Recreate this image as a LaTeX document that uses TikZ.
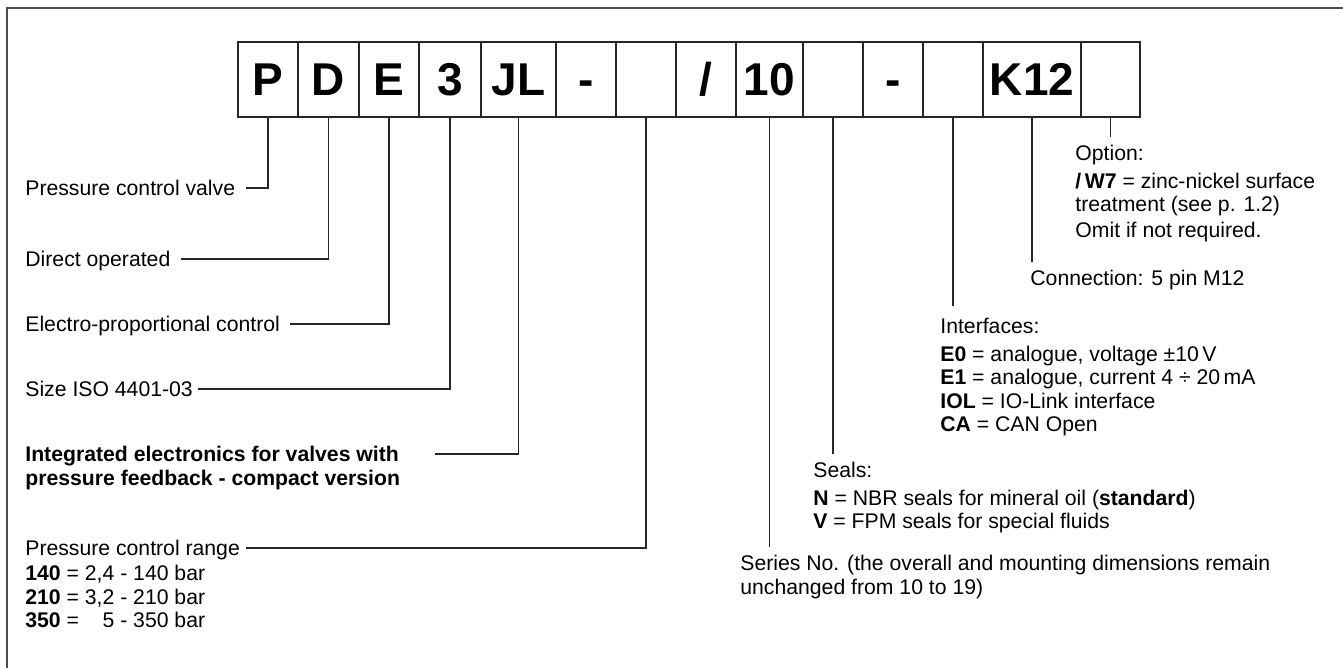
\documentclass[tikz,border=0pt]{standalone}
\usepackage{fontspec}
\setmainfont{Liberation Sans}
\usetikzlibrary{positioning}
\usetikzlibrary{calc}

\begin{document}
\begin{tikzpicture}[x=0.5pt,y=-0.5pt,
  cell/.style={draw=black!85, line width=0.6pt, minimum height=37.5pt, inner sep=0pt, outer sep=0pt, text height=16.4pt, text depth=0pt, font=\fontsize{23}{23}\selectfont\bfseries},
  lbl/.style={anchor=west, inner sep=0pt, text height=7.6pt, text depth=0pt, font=\fontsize{10.6}{11.75}\selectfont},
  blk/.style={anchor=north west, inner sep=0pt, align=left, font=\fontsize{10.6}{11.75}\selectfont},
  lead/.style={draw=black!85, line width=0.55pt, shorten >=5pt}]

\useasboundingbox (0,0) rectangle (1343,668);

% frame
\draw[black!70, line width=0.8pt] (7,668) -- (7,8) -- (1343,8);

% code boxes
{
\node[cell, minimum width=30pt, anchor=north west] (bP) at (238,42) {P};
\node[cell, minimum width=30.5pt, right=0pt of bP] (bD) {D};
\node[cell, minimum width=30pt, right=0pt of bD] (bE) {E};
\node[cell, minimum width=31pt, right=0pt of bE] (bSz) {3};
\node[cell, minimum width=37.5pt, right=0pt of bSz] (bJL) {JL};
\node[cell, minimum width=30pt, right=0pt of bJL] (bDa) {-};
\node[cell, minimum width=30pt, right=0pt of bDa] (bRng) {};
\node[cell, minimum width=30pt, right=0pt of bRng] (bSl) {/};
\node[cell, minimum width=33.5pt, right=0pt of bSl] (bSer) {10};
\node[cell, minimum width=30pt, right=0pt of bSer] (bSeal) {};
\node[cell, minimum width=30pt, right=0pt of bSeal] (bDb) {-};
\node[cell, minimum width=30pt, right=0pt of bDb] (bIf) {};
\node[cell, minimum width=49pt, right=0pt of bIf] (bK) {K12};
\node[cell, minimum width=29.5pt, right=0pt of bK] (bOpt) {};
}

% left labels
{
\node[lbl] (lP) at (25,188) {Pressure control valve};
\node[lbl] (lD) at (25,259) {Direct operated};
\node[lbl] (lE) at (25,324) {Electro-proportional control};
\node[lbl] (lSz) at (25,389) {Size ISO 4401-03};

\node[blk, font=\fontsize{10.6}{11.75}\selectfont\bfseries] (lJL) at (25,446)
{Integrated electronics for valves with\\ pressure feedback - compact version};

\node[lbl] (lRng) at (25,548) {Pressure control range};
\node[blk] (lRngList) at (25,565)
{\textbf{140} = 2,4 - 140 bar\\ \textbf{210} = 3,2 - 210 bar\\ \textbf{350} = \phantom{3,}5 - 350 bar};
}

% right labels
{
\node[blk] (lOpt) at (1075,145)
{Option:\\[2pt] \textbf{/\,W7} = zinc-nickel surface\\ treatment (see p. 1.2)\\[1pt] Omit if not required.};

\node[blk] (lK) at (1030,270) {Connection: 5 pin M12};

\node[blk] (lIf) at (940,318)
{Interfaces:\\[2pt] \textbf{E0} = analogue, voltage ±10\,V\\ \textbf{E1} = analogue, current 4 ÷ 20\,mA\\ \textbf{IOL} = IO-Link interface\\ \textbf{CA} = CAN Open};

\node[blk] (lSeal) at (813,462)
{Seals:\\[2pt] \textbf{N} = NBR seals for mineral oil (\textbf{standard})\\ \textbf{V} = FPM seals for special fluids};

\node[blk] (lSer) at (740,555)
{Series No. (the overall and mounting dimensions remain\\ unchanged from 10 to 19)};
}

% leaders
{
\draw[lead] (bP.south) |- (lP.east);
\draw[lead] (bD.south) |- (lD.east);
\draw[lead] (bE.south) |- (lE.east);
\draw[lead, shorten >=2.5pt] (bSz.south) |- (lSz.east);
\draw[lead, shorten >=0pt] (bJL.south) |- ($(lJL.north east)+(35,8)$);
\draw[lead, shorten >=3pt] (bRng.south) |- (lRng.east);

\draw[lead, shorten >=4pt] (bSer.south) -- (bSer.south |- lSer.north);
\draw[lead, shorten >=4pt] (bSeal.south) -- (bSeal.south |- lSeal.north);
\draw[lead, shorten >=6pt] (bIf.south) -- (bIf.south |- lIf.north);
\draw[lead, shorten >=4pt] (bK.south) -- (bK.south |- lK.north);
\draw[lead, shorten >=4pt] (bOpt.south) -- (bOpt.south |- lOpt.north);
}

\end{tikzpicture}
\end{document}
